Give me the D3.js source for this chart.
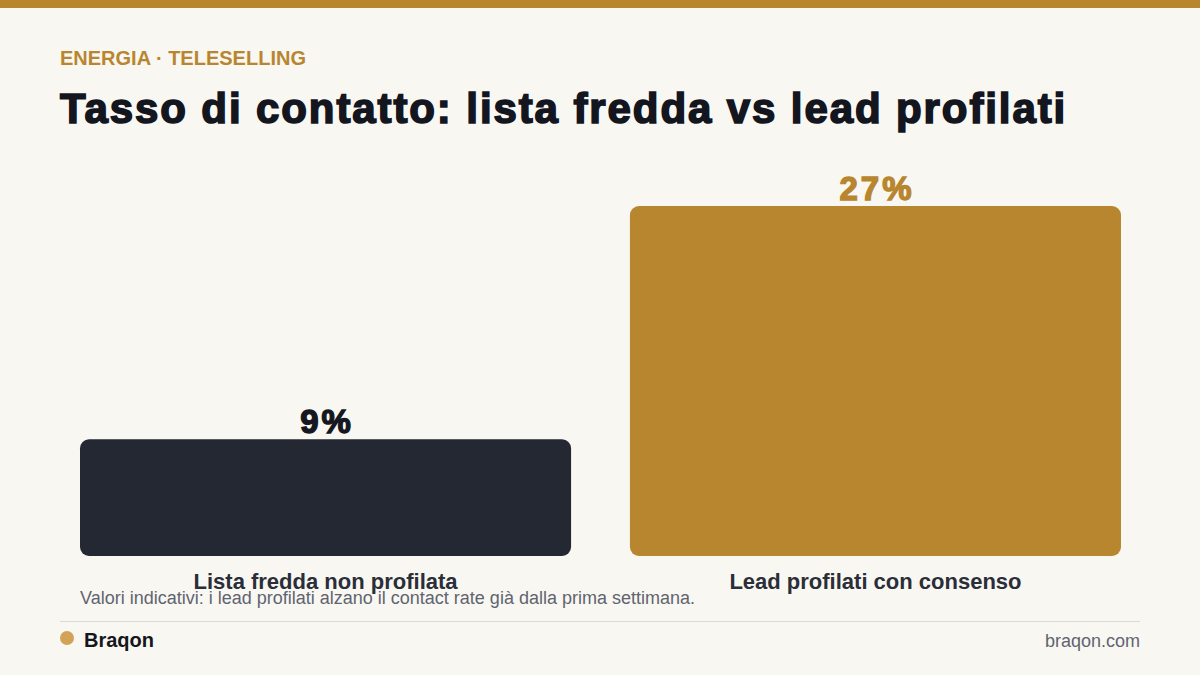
<!DOCTYPE html>
<html lang="it">
<head>
  <meta charset="UTF-8">
  <title>Tasso di contatto</title>
  <script src="https://d3js.org/d3.v7.min.js"></script>
  <style>
    html, body { margin: 0; padding: 0; background: #f9f7f2; }
    text { font-family: "Liberation Sans", Arial, sans-serif; }
  </style>
</head>
<body>
  <div id="root"></div>
  <script>
    // dati
    const categories = ['Lista fredda non profilata', 'Lead profilati con consenso']
    const values = [9, 27]
    const barColors = ['#242832', '#b8862f']
    const labelColors = ['#151820', '#b8862f']

    const width = 1200
    const height = 675
    const baseline = 556

    const svg = d3.select('#root')
      .append('svg')
      .attr('width', width)
      .attr('height', height)
      .style('display', 'block')

    svg.append('rect').attr('width', width).attr('height', height).attr('fill', '#f9f7f2')
    // barra in alto
    svg.append('rect').attr('width', width).attr('height', 8).attr('fill', '#b8862f')

    svg.append('text')
      .attr('x', 60).attr('y', 64.5)
      .attr('font-size', 20).attr('font-weight', 'bold')
      .attr('fill', '#b8862f')
      .text('ENERGIA · TELESELLING')

    svg.append('text')
      .attr('x', 60).attr('y', 122.5)
      .attr('font-size', 42).attr('font-weight', 'bold')
      .attr('letter-spacing', 1.9)
      .attr('fill', '#13161e')
      .attr('stroke', '#13161e').attr('stroke-width', 1.6)
      .text('Tasso di contatto: lista fredda vs lead profilati')

    // scale
    const x = d3.scaleBand()
      .domain(categories)
      .range([80, 1121])
      .paddingInner(0.107)
      .paddingOuter(0)

    const y = d3.scaleLinear()
      .domain([0, d3.max(values)])
      .range([baseline, 206])

    const data = categories.map((c, i) => ({name: c, value: values[i], i}))

    const bars = svg.append('g')
    bars.selectAll('rect')
      .data(data)
      .enter()
      .append('rect')
      .attr('x', d => x(d.name))
      .attr('y', d => y(d.value))
      .attr('width', x.bandwidth())
      .attr('height', d => baseline - y(d.value))
      .attr('rx', 9)
      .attr('fill', d => barColors[d.i])

    bars.selectAll('text.val')
      .data(data)
      .enter()
      .append('text')
      .attr('class', 'val')
      .attr('x', d => x(d.name) + x.bandwidth() / 2)
      .attr('dx', 1.5)
      .attr('y', d => y(d.value) - 6.5)
      .attr('text-anchor', 'middle')
      .attr('font-size', 33).attr('font-weight', 'bold')
      .attr('letter-spacing', 3)
      .attr('fill', d => labelColors[d.i])
      .attr('stroke', d => labelColors[d.i]).attr('stroke-width', 1.4)
      .text(d => d.value + '%')

    // asse x (solo etichette)
    const xAxis = d3.axisBottom(x).tickSize(0).tickPadding(0)
    const xAxisG = svg.append('g')
      .attr('transform', `translate(0, ${baseline})`)
      .call(xAxis)
    xAxisG.select('.domain').remove()
    xAxisG.selectAll('.tick text')
      .attr('y', 33)
      .attr('dy', 0)
      .attr('font-size', 22).attr('font-weight', 'bold')
      .attr('font-family', '"Liberation Sans", Arial, sans-serif')
      .attr('fill', '#2a2e38')

    svg.append('text')
      .attr('x', 80).attr('y', 604)
      .attr('font-size', 18)
      .attr('fill', '#5f6470')
      .text('Valori indicativi: i lead profilati alzano il contact rate già dalla prima settimana.')

    svg.append('line')
      .attr('x1', 60).attr('x2', 1140)
      .attr('y1', 621.5).attr('y2', 621.5)
      .attr('stroke', '#dcdad5').attr('stroke-width', 1)

    svg.append('circle')
      .attr('cx', 67).attr('cy', 638).attr('r', 7)
      .attr('fill', '#d4a256')

    svg.append('text')
      .attr('x', 84).attr('y', 647)
      .attr('font-size', 20).attr('font-weight', 'bold')
      .attr('fill', '#15171c')
      .text('Braqon')

    svg.append('text')
      .attr('x', 1140).attr('y', 647)
      .attr('text-anchor', 'end')
      .attr('font-size', 18)
      .attr('fill', '#5f6470')
      .text('braqon.com')
  </script>
</body>
</html>
